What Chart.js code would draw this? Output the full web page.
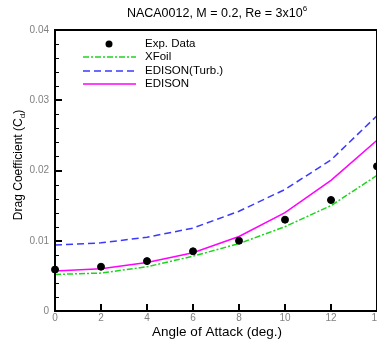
<!DOCTYPE html>
<html>
<head>
<meta charset="utf-8">
<script src="https://cdn.jsdelivr.net/npm/chart.js@4.4.0/dist/chart.umd.min.js"></script>
<style>
  html, body { margin: 0; padding: 0; background: #fff; overflow: hidden; }
  #box { position: relative; width: 400px; height: 347px; }
  #box canvas { position: absolute; left: 0; top: 0; }
  #frame { pointer-events: none; }
</style>
</head>
<body>
<div id="box">
  <canvas id="dragChart" width="400" height="347"></canvas>
  <canvas id="frame" width="400" height="347"></canvas>
</div>
<script>
// angle of attack (deg.)
const angles = [0, 2, 4, 6, 8, 10, 12, 14];
// drag coefficient values
const expData = [0.0059, 0.0063, 0.0071, 0.0085, 0.0100, 0.0130, 0.0158, 0.0206];
const xfoil = [0.0052, 0.0054, 0.0063, 0.0078, 0.0096, 0.0120, 0.0150, 0.0193];
const edisonTurb = [0.0094, 0.0097, 0.0105, 0.0118, 0.0142, 0.0173, 0.0215, 0.0278];
const edison = [0.0057, 0.0060, 0.0069, 0.0083, 0.0106, 0.0140, 0.0186, 0.0243];
const xTickLabels = ['0', '2', '4', '6', '8', '10', '12', '14'];
const yTickLabels = ['0', '0.01', '0.02', '0.03', '0.04'];

const FONT = '"Liberation Sans", Arial, sans-serif';

function pts(ys) {
    return angles.map((a, i) => ({ x: a, y: ys[i] }));
}

// frame and inward ticks, drawn on an overlay canvas from the chart's scales
const framePlugin = {
    id: 'frame',
    afterDraw(chart) {
        const c = document.getElementById('frame').getContext('2d');
        const a = chart.chartArea;
        const xs = chart.scales.x, ys = chart.scales.y;
        const L = Math.round(a.left), T = Math.round(a.top);
        const R = Math.round(a.right), B = Math.round(a.bottom);
        c.clearRect(0, 0, 400, 347);
        c.fillStyle = '#000';
        c.fillRect(L - 1, T - 1, R - L + 2, 2);
        c.fillRect(L - 1, B - 1, R - L + 2, 2);
        c.fillRect(L - 1, T - 1, 2, B - T + 2);
        c.fillRect(R - 1, T - 1, 2, B - T + 2);
        for (let k = 0; k <= 20; k++) {
            const py = Math.round(ys.getPixelForValue(k * 0.002));
            if (k % 5 === 0) c.fillRect(L, py - 1, 7, 2);
            else c.fillRect(L, py, 4, 1);
        }
        angles.forEach(v => {
            const px = Math.round(xs.getPixelForValue(v));
            c.fillRect(px - 1, B - 7, 2, 7);
        });
    }
};

// titles and legend
const textPlugin = {
    id: 'texts',
    afterDraw(chart) {
        const ctx = chart.ctx;
        ctx.save();
        ctx.fillStyle = '#000';
        ctx.textBaseline = 'alphabetic';
        ctx.textAlign = 'left';
        ctx.font = '12.5px ' + FONT;
        const t = 'NACA0012, M = 0.2, Re = 3x10';
        const tw = ctx.measureText(t).width;
        ctx.font = '8px ' + FONT;
        const sw = ctx.measureText('6').width;
        const tx = 217 - (tw + sw) / 2;
        ctx.font = '12.5px ' + FONT;
        ctx.fillText(t, tx, 17);
        ctx.font = '8px ' + FONT;
        ctx.fillText('6', tx + tw, 11);

        ctx.font = '13.5px ' + FONT;
        ctx.textAlign = 'center';
        ctx.fillText('Angle of Attack (deg.)', 217, 336);

        ctx.save();
        ctx.translate(22, 165);
        ctx.rotate(-Math.PI / 2);
        ctx.textAlign = 'left';
        ctx.font = '12px ' + FONT;
        const y1 = 'Drag Coefficient (C';
        const w1 = ctx.measureText(y1).width;
        ctx.font = '8px ' + FONT;
        const w2 = ctx.measureText('d').width;
        ctx.font = '12px ' + FONT;
        const w3 = ctx.measureText(')').width;
        const yx = -(w1 + w2 + w3) / 2;
        ctx.fillText(y1, yx, 0);
        ctx.font = '8px ' + FONT;
        ctx.fillText('d', yx + w1, 3);
        ctx.font = '12px ' + FONT;
        ctx.fillText(')', yx + w1 + w2, 0);
        ctx.restore();

        const rows = [44, 57, 71, 84];
        ctx.textAlign = 'left';
        ctx.textBaseline = 'middle';
        ctx.font = '11.5px ' + FONT;
        chart.data.datasets.forEach((ds, i) => {
            const ry = rows[i];
            if (ds.showLine === false) {
                ctx.beginPath();
                ctx.fillStyle = ds.pointBackgroundColor;
                ctx.arc(109, ry, ds.pointRadius, 0, Math.PI * 2);
                ctx.fill();
            } else {
                ctx.beginPath();
                ctx.strokeStyle = ds.borderColor;
                ctx.lineWidth = ds.borderWidth;
                ctx.setLineDash(ds.borderDash || []);
                ctx.moveTo(83, ry);
                ctx.lineTo(136, ry);
                ctx.stroke();
                ctx.setLineDash([]);
            }
            ctx.fillStyle = '#000';
            ctx.fillText(ds.label, 145, ry);
        });
        ctx.restore();
    }
};

new Chart(document.getElementById('dragChart'), {
    type: 'scatter',
    data: {
        datasets: [
            {
                label: 'Exp. Data',
                data: pts(expData),
                showLine: false,
                pointRadius: 3.5,
                pointBackgroundColor: '#000',
                pointBorderColor: '#000',
                clip: false
            },
            {
                label: 'XFoil',
                data: pts(xfoil),
                showLine: true,
                borderColor: '#1fd41f',
                borderWidth: 1.5,
                borderDash: [6, 2, 2, 2],
                pointRadius: 0
            },
            {
                label: 'EDISON(Turb.)',
                data: pts(edisonTurb),
                showLine: true,
                borderColor: '#3a3aff',
                borderWidth: 1.5,
                borderDash: [7, 4],
                pointRadius: 0
            },
            {
                label: 'EDISON',
                data: pts(edison),
                showLine: true,
                borderColor: '#ff00ff',
                borderWidth: 1.5,
                pointRadius: 0
            }
        ]
    },
    options: {
        responsive: false,
        animation: false,
        layout: { padding: { left: 0, right: 23, top: 30, bottom: 0 } },
        plugins: {
            legend: { display: false },
            tooltip: { enabled: false }
        },
        scales: {
            x: {
                type: 'linear',
                min: 0,
                max: 14,
                grid: { display: false, drawTicks: false },
                border: { display: false },
                afterFit: s => { s.height = 36; },
                ticks: {
                    stepSize: 2,
                    padding: 1,
                    color: '#808080',
                    font: { family: FONT, size: 10 },
                    maxRotation: 0,
                    callback: v => xTickLabels[angles.indexOf(v)] ?? ''
                }
            },
            y: {
                min: 0,
                max: 0.04,
                grid: { display: false, drawTicks: false },
                border: { display: false },
                afterFit: s => { s.width = 55; },
                ticks: {
                    stepSize: 0.01,
                    padding: 6,
                    color: '#808080',
                    font: { family: FONT, size: 10 },
                    callback: v => yTickLabels[Math.round(v / 0.01)] ?? ''
                }
            }
        }
    },
    plugins: [framePlugin, textPlugin]
});
</script>
</body>
</html>
